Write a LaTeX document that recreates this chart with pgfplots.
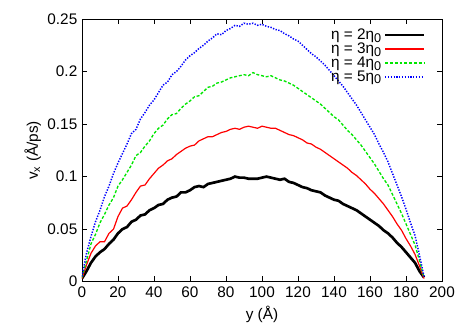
\documentclass[border=0pt]{standalone}
\usepackage{fontspec}
\setmainfont{Liberation Sans}
\usepackage{pgfplots}
\pgfplotsset{compat=1.18}
\usepackage{pgfplotstable}

\definecolor{gpgreen}{RGB}{0,230,0}
\newcommand{\sub}[1]{\raisebox{-0.35ex}{\fontsize{9.5}{10}\selectfont #1}}

% velocity profiles, columns: y, eta=2,3,4,5 eta0
\pgfplotstableread{
y     b     r     g     bl
0     0.003 0.003 0.004 0.005
2.5   0.010 0.016 0.020 0.027
5     0.018 0.027 0.036 0.043
7.5   0.024 0.034 0.045 0.057
10    0.028 0.038 0.056 0.068
12.5  0.031 0.038 0.064 0.081
15    0.036 0.046 0.073 0.091
17.5  0.040 0.050 0.080 0.103
20    0.046 0.062 0.091 0.113
22.5  0.050 0.070 0.097 0.122
25    0.052 0.072 0.104 0.131
27.5  0.057 0.078 0.111 0.141
30    0.059 0.085 0.120 0.145
32.5  0.063 0.091 0.123 0.155
35    0.064 0.092 0.129 0.161
37.5  0.068 0.098 0.134 0.168
40    0.070 0.103 0.141 0.173
42.5  0.073 0.108 0.146 0.180
45    0.074 0.111 0.149 0.187
47.5  0.078 0.115 0.155 0.190
50    0.080 0.117 0.159 0.197
52.5  0.081 0.121 0.160 0.200
55    0.085 0.124 0.165 0.205
57.5  0.085 0.127 0.169 0.211
60    0.087 0.129 0.172 0.215
62.5  0.090 0.130 0.176 0.218
65    0.091 0.134 0.177 0.222
67.5  0.090 0.136 0.181 0.225
70    0.093 0.138 0.185 0.229
72.5  0.094 0.138 0.186 0.232
75    0.095 0.140 0.189 0.236
77.5  0.096 0.142 0.190 0.235
80    0.097 0.143 0.192 0.239
82.5  0.098 0.145 0.194 0.241
85    0.100 0.146 0.195 0.244
87.5  0.099 0.145 0.196 0.243
90    0.099 0.147 0.197 0.246
92.5  0.098 0.148 0.196 0.245
95    0.098 0.147 0.199 0.246
97.5  0.098 0.146 0.197 0.244
100   0.099 0.148 0.196 0.245
102.5 0.100 0.147 0.195 0.243
105   0.099 0.146 0.196 0.242
107.5 0.098 0.146 0.194 0.240
110   0.097 0.144 0.192 0.239
112.5 0.098 0.142 0.191 0.236
115   0.095 0.140 0.189 0.234
117.5 0.094 0.139 0.187 0.231
120   0.092 0.137 0.184 0.229
122.5 0.090 0.135 0.181 0.225
125   0.089 0.132 0.178 0.221
127.5 0.087 0.131 0.175 0.217
130   0.086 0.128 0.172 0.214
132.5 0.085 0.126 0.169 0.210
135   0.082 0.123 0.165 0.206
137.5 0.080 0.120 0.161 0.201
140   0.078 0.117 0.157 0.196
142.5 0.077 0.114 0.154 0.191
145   0.074 0.111 0.149 0.186
147.5 0.072 0.108 0.144 0.180
150   0.070 0.104 0.140 0.174
152.5 0.068 0.101 0.135 0.168
155   0.065 0.097 0.130 0.161
157.5 0.062 0.093 0.124 0.154
160   0.059 0.088 0.118 0.147
162.5 0.056 0.084 0.112 0.140
165   0.053 0.079 0.105 0.131
167.5 0.049 0.074 0.098 0.123
170   0.046 0.068 0.092 0.114
172.5 0.042 0.062 0.083 0.103
175   0.037 0.055 0.074 0.092
177.5 0.033 0.049 0.065 0.081
180   0.028 0.041 0.055 0.069
182.5 0.023 0.034 0.045 0.056
185   0.018 0.026 0.035 0.044
187.5 0.010 0.015 0.020 0.025
190   0.004 0.003 0.004 0.005
}\profiles

\begin{document}
\begin{tikzpicture}
\begin{axis}[
    scale only axis,
    width=270pt, height=197pt,
    xmin=0, xmax=200, ymin=0, ymax=0.25,
    xtick={0,20,...,200},
    ytick={0,0.05,0.1,0.15,0.2,0.25},
    yticklabel style={/pgf/number format/fixed, /pgf/number format/precision=2},
    scaled y ticks=false,
    /pgf/number format/assume math mode=true,
    tick align=inside,
    major tick length=4pt,
    axis line style={line width=0.6pt},
    every tick/.style={black, line width=0.6pt},
    font=\fontsize{11.5}{13}\selectfont,
    xlabel={y (Å)},
    ylabel={v\textsubscript{x} (Å/ps)},
    ylabel style={yshift=-2pt},
    legend plot pos=right,
    legend cell align=right,
    legend image code/.code={\draw[#1] (0pt,0pt) -- (29pt,0pt);},
    legend style={at={(0.965,0.985)}, anchor=north east, draw=none, fill=none,
        row sep=-3pt, font=\fontsize{11.5}{13}\selectfont},
]
\addplot[black, line width=2pt] table[x=y, y=b] {\profiles};
\addplot[red, line width=0.9pt] table[x=y, y=r] {\profiles};
\addplot[gpgreen, line width=1pt, dash pattern=on 2.2pt off 1.4pt] table[x=y, y=g] {\profiles};
\addplot[blue, line width=1.1pt, dash pattern=on 1pt off 1.1pt] table[x=y, y=bl] {\profiles};
\legend{η = 2η\sub{0}, η = 3η\sub{0}, η = 4η\sub{0}, η = 5η\sub{0}}
\end{axis}
\path ([xshift=-61.5pt,yshift=-33.75pt]current axis.south west)
      ([xshift=18.75pt,yshift=14.25pt]current axis.north east);
\end{tikzpicture}
\end{document}
